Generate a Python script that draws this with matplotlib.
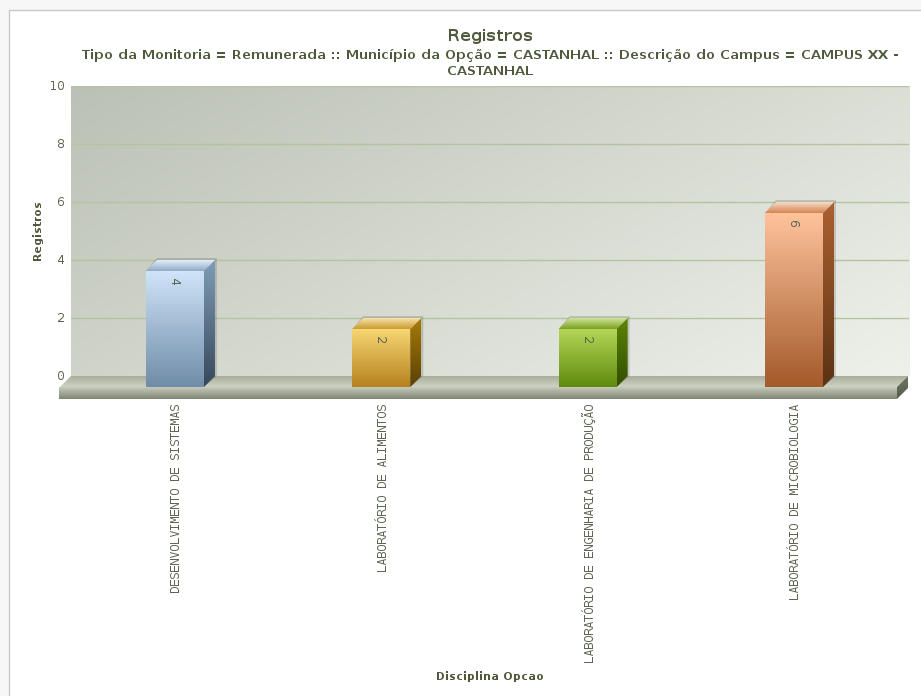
import numpy as np
import matplotlib
matplotlib.use("Agg")
import matplotlib.pyplot as plt
from matplotlib.colors import LinearSegmentedColormap
from matplotlib.patches import Polygon, Rectangle
from matplotlib.transforms import Affine2D

plt.rcParams["text.hinting"] = "native"
plt.rcParams["text.hinting_factor"] = 1

categories = ["DESENVOLVIMENTO DE SISTEMAS", "LABORATÓRIO DE ALIMENTOS",
              "LABORATÓRIO DE ENGENHARIA DE PRODUÇÃO", "LABORATÓRIO DE MICROBIOLOGIA"]
values = [4, 2, 2, 6]
y_ticks = [0, 2, 4, 6, 8, 10]
front_top = ["#cfe4f9", "#f7d673", "#b4d657", "#ffc39c"]
front_bot = ["#6f8ca8", "#b5821c", "#5f8a0c", "#a35a2b"]
side_top = ["#7f9db8", "#a87c08", "#5b8505", "#ad6130"]
side_bot = ["#36475a", "#5a4000", "#334d00", "#5a3214"]
top_back = ["#e4eefa", "#f7e2a8", "#d0e498", "#f7dcc8"]
top_front = ["#8faac6", "#c99a2e", "#7a9f20", "#d58350"]

TEXT = "#4f5a3c"
MONO = "#5c6650"
W, H = 921, 696
fig = plt.figure(figsize=(W / 100, H / 100), dpi=100, facecolor="#f7f7f7")

# page card
fig.add_artist(Rectangle((8.5 / W, -0.01), 1.02 - 8.5 / W, (696 - 9.5) / H + 0.01,
                         transform=fig.transFigure, fc="white", ec="#c8c8c8", lw=1, zorder=-5))

ax = fig.add_axes([71 / W, (696 - 376) / H, 838 / W, 290 / H])
ax.set_xlim(-0.557, 3.504)
ax.set_ylim(0, 10)
ax.set_autoscale_on(False)
for s in ax.spines.values():
    s.set_visible(False)
ax.set_facecolor("none")


def grad(c1, c2, n=256):
    return LinearSegmentedColormap.from_list("g", [c1, c2], N=n)


# wall diagonal gradient
gx, gy = np.meshgrid(np.linspace(0, 1, 200), np.linspace(0, 1, 100))
ax.imshow(gx * 0.62 + gy * 0.38, extent=ax.get_xlim() + ax.get_ylim(), aspect="auto",
          cmap=grad("#bcc1b5", "#eef1ea"), zorder=0, origin="upper")

ax.set_yticks(y_ticks)
ax.set_yticklabels([str(t) for t in y_ticks], family="DejaVu Sans Mono", fontsize=8.3, color=MONO)
ax.tick_params(axis="y", length=0, pad=5)
for tick in ax.yaxis.get_major_ticks():
    tick.label1.set_transform(tick.label1.get_transform() + Affine2D().translate(0, 1.5))
for t in y_ticks[1:]:
    ax.axhline(t, color="#b4c3a0", lw=1.0, zorder=1)


def shifted(dx, dy):
    return ax.transData + Affine2D().translate(dx, dy)


depth = 11
front = shifted(-depth, -depth)
BAR_W = 58 / 206.33

ax.set_xticks(range(len(categories)))
ax.set_xticklabels(categories, rotation=90, family="DejaVu Sans Mono", fontsize=8.3, color=MONO)
ax.tick_params(axis="x", length=0, pad=20.5)
for tick in ax.xaxis.get_major_ticks():
    tick.label1.set_transform(tick.label1.get_transform() + Affine2D().translate(-9, 0))

xl, xr = ax.get_xlim()
(x0, y0), (x1, _) = ax.transData.transform((xl, 0)), ax.transData.transform((xr, 0))


def gradient_poly(pts, c1, c2, zorder, horizontal=False):
    """Fill a polygon given in display px with a gradient."""
    pts = np.array(pts)
    patch = Polygon(pts, closed=True, transform=None, fc="none", ec="none", zorder=zorder)
    arr = np.linspace(0, 1, 256)
    arr = arr[None, :] if horizontal else arr[:, None]
    ext = (pts[:, 0].min(), pts[:, 0].max(), pts[:, 1].min(), pts[:, 1].max())
    im = ax.imshow(arr, cmap=grad(c1, c2), origin="upper", extent=ext, aspect="auto",
                   transform=None, zorder=zorder)
    im.set_clip_box(fig.bbox)
    im.set_clip_path(patch)
    return im


# floor: top surface, front slab, right end
gradient_poly([(x0 - depth, y0 - depth), (x0, y0), (x1 - 1, y0), (x1 - 12, y0 - depth)],
              "#a9ae9c", "#cdd2c3", 2)
gradient_poly([(x0 - depth - 1, y0 - depth), (x1 - 12, y0 - depth), (x1 - 12, y0 - 23), (x0 - depth - 1, y0 - 23)],
              "#c5cabb", "#7f8573", 2)
gradient_poly([(x1 - 12, y0 - depth), (x1 - 1, y0), (x1 - 1, y0 - 12), (x1 - 12, y0 - 23)],
              "#6f7663", "#565c4b", 2)

# bars
for i, v in enumerate(values):
    ax.bar(i, v, width=BAR_W, transform=front, color="none", zorder=4, clip_on=False)
    (lx, by), (rx, ty) = front.transform((i - BAR_W / 2, 0)), front.transform((i + BAR_W / 2, v))
    ax.add_patch(Polygon([(rx, by), (rx + depth + 2, by + depth), (rx + depth + 2, ty + depth + 2),
                          (lx + depth, ty + depth + 2), (lx, ty)],
                         closed=True, transform=None, fc="#000000", alpha=0.14, ec="none", zorder=4, clip_on=False))
    gradient_poly([(lx, by), (rx, by), (rx, ty), (lx, ty)], front_top[i], front_bot[i], 5)
    gradient_poly([(rx, by), (rx + depth, by + depth), (rx + depth, ty + depth), (rx, ty)],
                  side_top[i], side_bot[i], 5)
    gradient_poly([(lx, ty), (rx, ty), (rx + depth, ty + depth), (lx + depth, ty + depth)],
                  top_back[i], top_front[i], 5)
    ax.annotate(str(v), xy=(i, v), xycoords=front, xytext=(-1.5, -11), textcoords="offset pixels",
                rotation=-90, ha="center", va="center", fontsize=8.3,
                family="DejaVu Sans Mono", color=MONO, zorder=6)

ax.set_ylabel("Registros", fontsize=8.2, fontweight="bold", color=TEXT, family="DejaVu Sans", labelpad=0)
ax.yaxis.set_label_coords((43 - 71) / 838, (376 - 230) / 290)
fig.text(490 / W, 1 - 676 / H, "Disciplina Opcao", ha="center", va="center", fontsize=7.9,
         fontweight="bold", color=TEXT)
fig.text(490 / W, 1 - 37 / H, "Registros", ha="center", va="center", fontsize=11.2,
         fontweight="bold", color=TEXT)
fig.text(490 / W, 1 - 56 / H, "Tipo da Monitoria = Remunerada :: Município da Opção = CASTANHAL :: Descrição do Campus = CAMPUS XX -",
         ha="center", va="center", fontsize=9.05, fontweight="bold", color=TEXT)
fig.text(490 / W, 1 - 71.5 / H, "CASTANHAL", ha="center", va="center", fontsize=9.05,
         fontweight="bold", color=TEXT)

fig.savefig("out.png", dpi=100, facecolor=fig.get_facecolor())
